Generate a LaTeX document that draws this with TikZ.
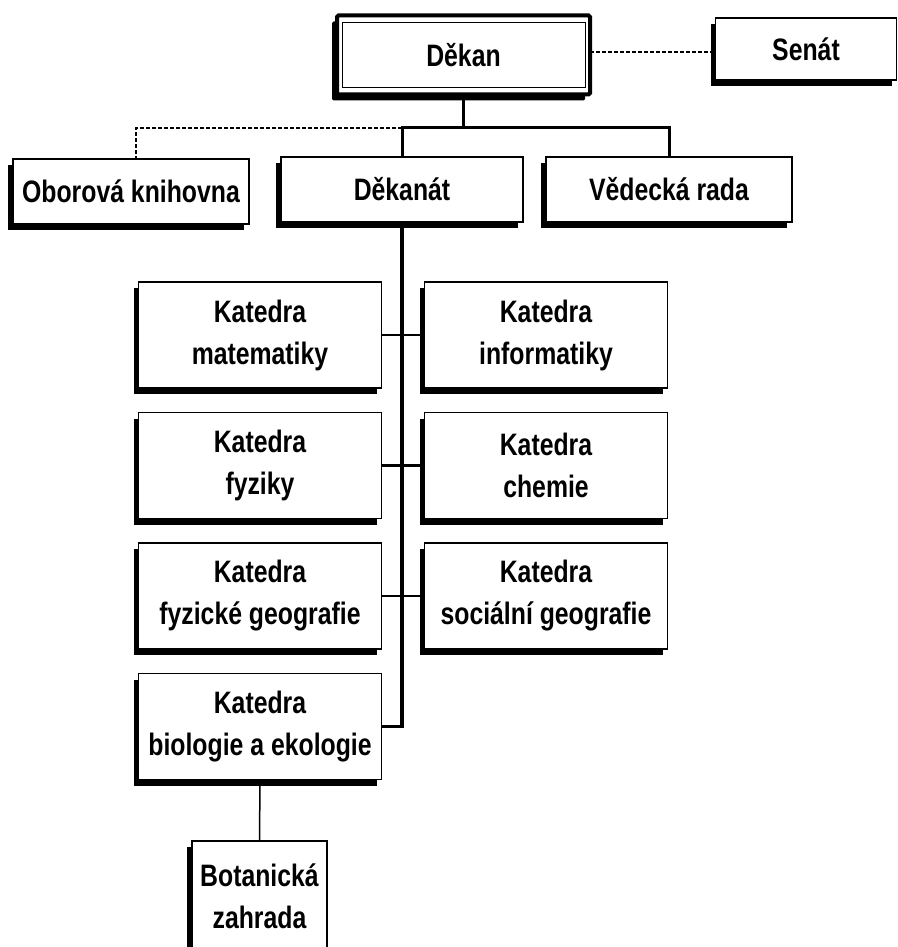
\documentclass[tikz,border=0pt]{standalone}
\usepackage{fontspec}
\newfontfamily\orgfont{Liberation Sans}[FakeStretch=0.8]
\usepackage{tikz}
\usetikzlibrary{calc, shadows}

\begin{document}
\begin{tikzpicture}[x=1pt, y=-1pt,
  unit/.style={draw, line width=1.2pt, fill=white, inner sep=0pt, outer sep=0pt,
    align=center, font=\orgfont\bfseries\fontsize{31}{42}\selectfont,
    drop shadow={shadow xshift=-5pt, shadow yshift=-6pt, fill=black, opacity=1}},
  katedra/.style={unit, minimum width=243pt, minimum height=106pt},
  link/.style={line width=3pt},
  dotlink/.style={line width=1.2pt, dash pattern=on 4pt off 2pt}]
\useasboundingbox (0,0) rectangle (897,947);
\clip (0,0) rectangle (897,947);

% vedeni fakulty
\node[unit, line width=4pt, rounded corners=1.5pt, minimum width=253pt, minimum height=79pt] (dekan) at (463.5,55) {Děkan};
\draw[line width=1pt] ($(dekan.north west)+(5,7)$) rectangle ($(dekan.south east)+(-5,-7)$);
\node[unit, minimum width=181pt, minimum height=62pt] (senat) at (806,49) {Senát};

\node[unit, minimum width=236pt, minimum height=65pt] (obor) at (131,191.5) {Oborová knihovna};
\node[unit, minimum width=242pt, minimum height=65pt] (dekanat) at (402,189.5) {Děkanát};
\node[unit, minimum width=246pt, minimum height=65pt] (vedecka) at (669,189.5) {Vědecká rada};

% katedry
\foreach \n/\x/\y/\txt in {mat/260/335/{Katedra\\matematiky},
                           inf/546/335/{Katedra\\informatiky},
                           fyz/260/465.5/{Katedra\\fyziky},
                           chem/546/465.5/{Katedra\\chemie},
                           fgeo/260/596/{Katedra\\fyzické geografie},
                           sgeo/546/596/{Katedra\\sociální geografie},
                           bio/260/726.5/{Katedra\\biologie a ekologie}}
  \node[katedra] (\n) at (\x,\y) {\txt};

\node[unit, minimum width=135pt, minimum height=110pt] (bot) at (259.5,896) {Botanická\\zahrada};

% spojnice
\coordinate (bus) at (463.5,128);
\draw[link] (dekan.south) -- (bus);
\draw[link] (dekanat.north) |- (vedecka.north |- bus) -- (vedecka.north);
\draw[dotlink] (dekanat.north |- bus) -| ([xshift=5pt]obor.north);
\draw[dotlink] ([yshift=3pt]dekan.east) -- ([yshift=3pt]dekan.east -| senat.west);

\draw[link, line width=3.5pt] (dekanat.south) |- (bio.east);
\foreach \l/\r in {mat/inf, fyz/chem, fgeo/sgeo}
  \draw[link, line width=2.5pt] (\l.east) -- (\r.west);
\draw[line width=1.5pt] (bio.south) -- (bot.north);
\end{tikzpicture}
\end{document}
